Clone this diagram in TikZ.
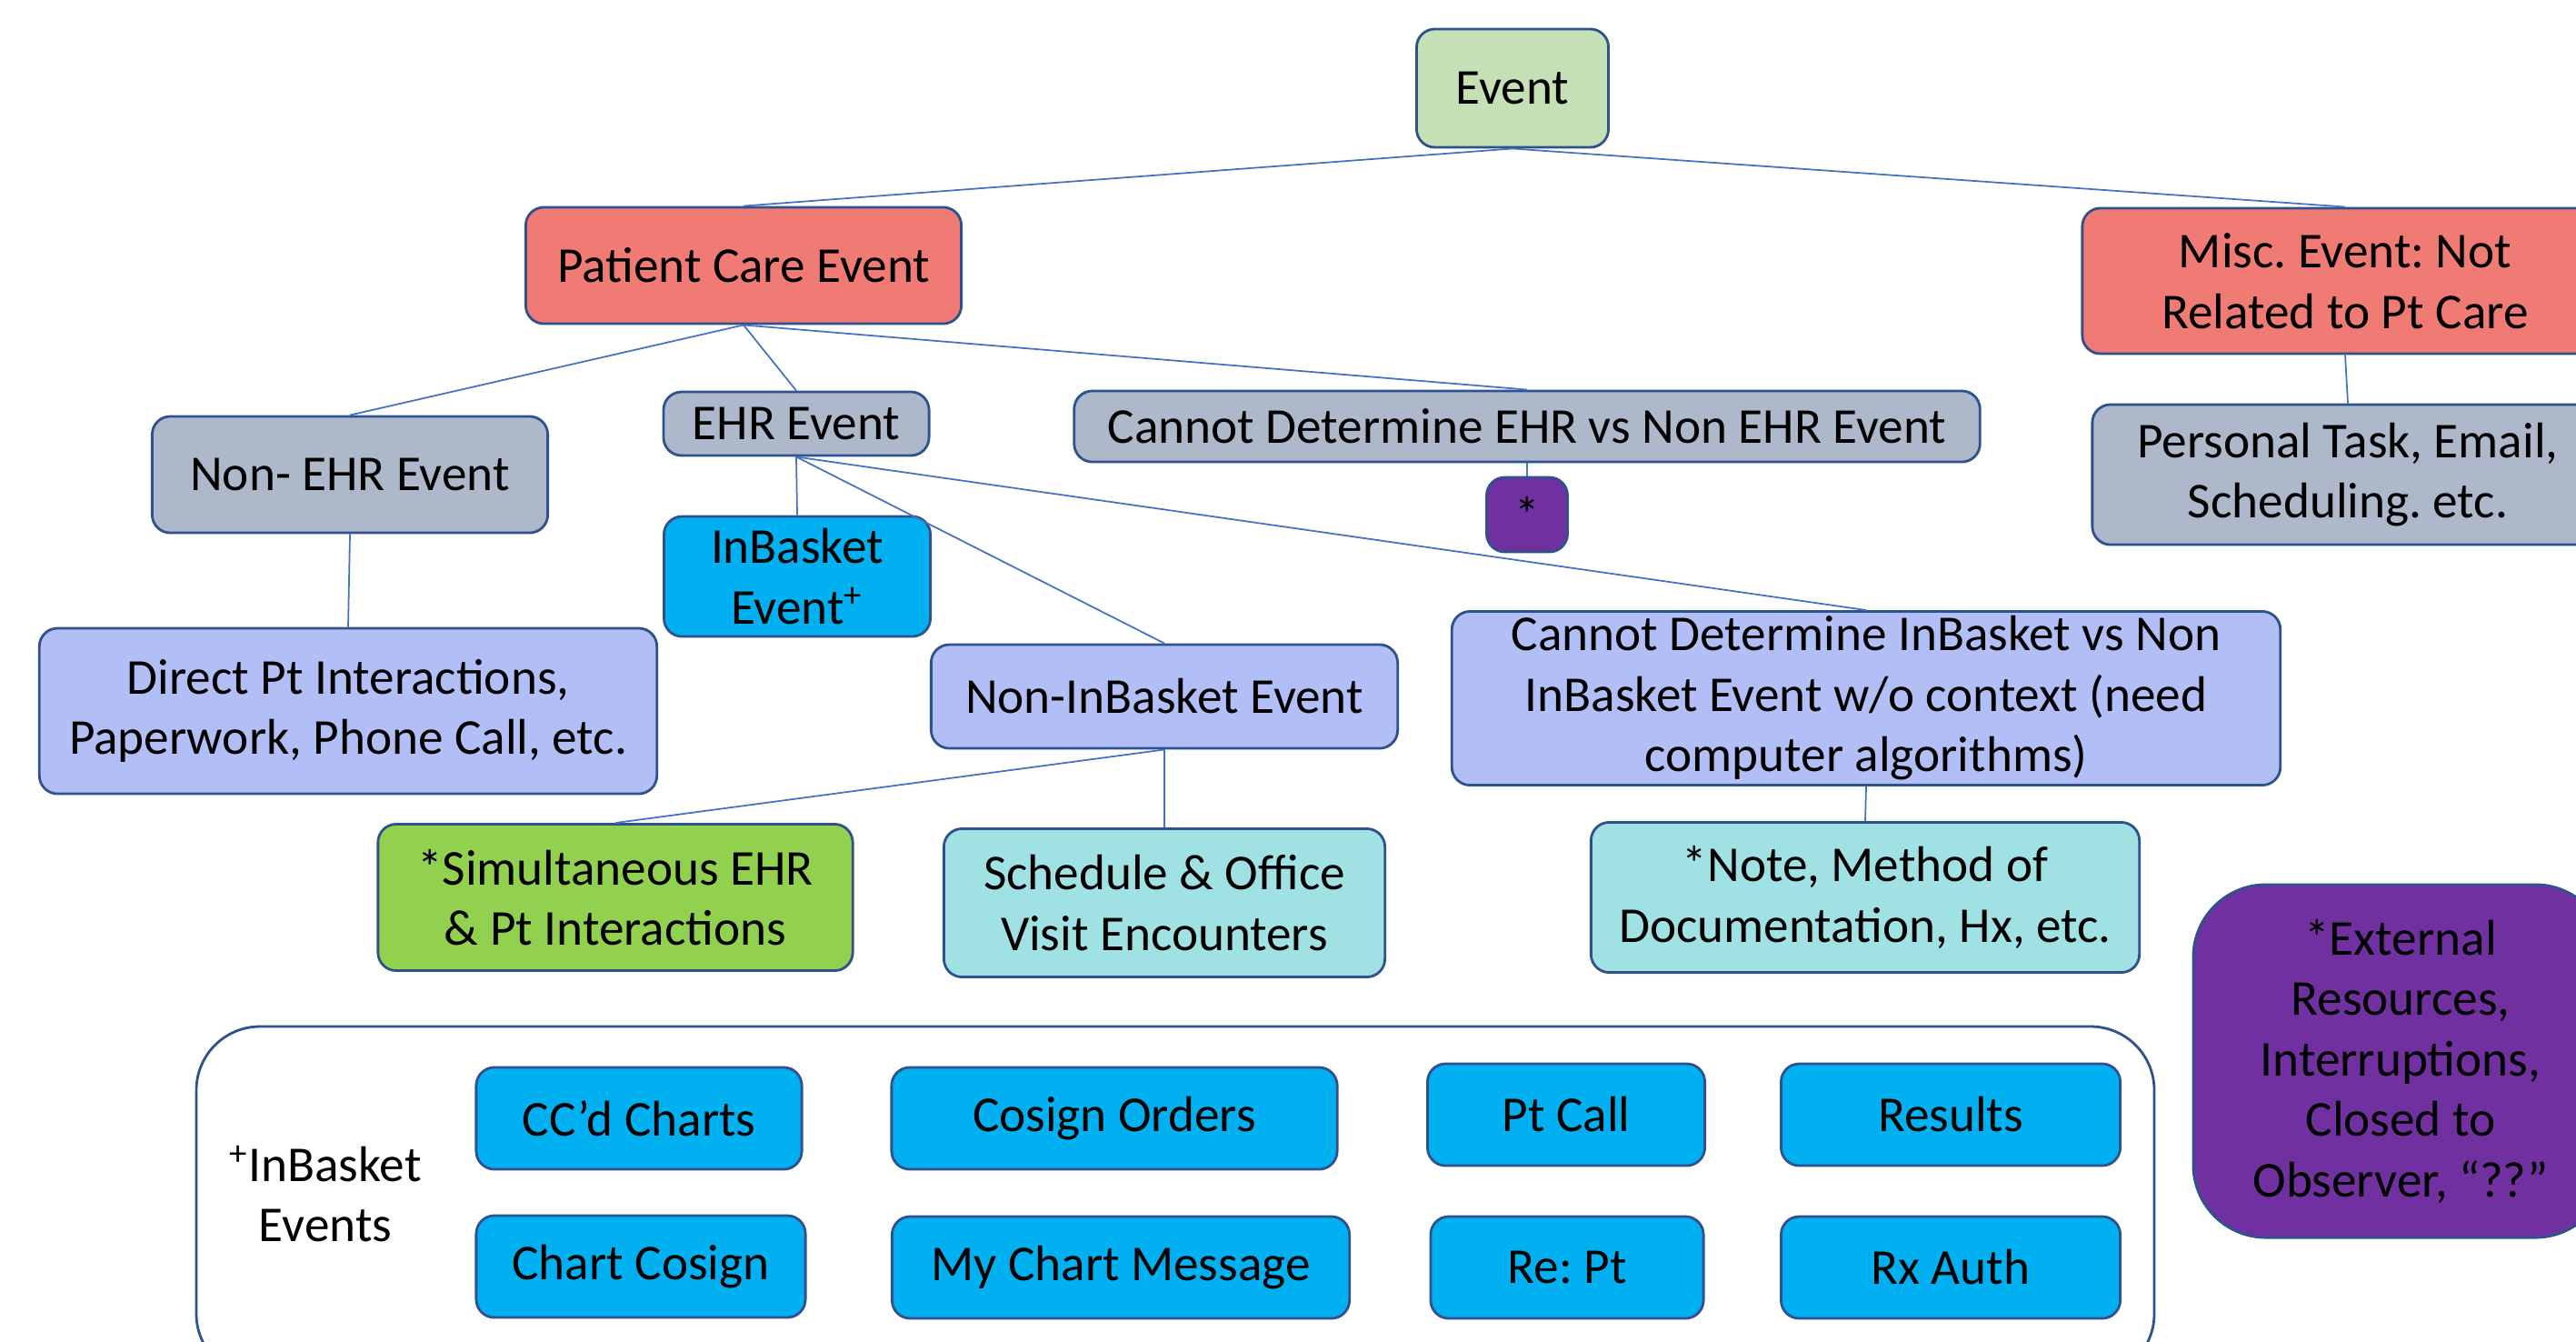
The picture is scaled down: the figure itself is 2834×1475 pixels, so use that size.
\documentclass[tikz,border=0pt]{standalone}
\usepackage{fontspec}
\setmainfont{Carlito}
\usetikzlibrary{positioning}
\definecolor{boxline}{HTML}{2F528F}
\definecolor{linkblue}{HTML}{4472C4}
\definecolor{evgreen}{HTML}{C5E0B4}
\definecolor{pcred}{HTML}{F07B74}
\definecolor{ehrgray}{HTML}{ADB9CA}
\definecolor{lavender}{HTML}{B1BFF6}
\definecolor{inblue}{HTML}{00B0F0}
\definecolor{simgreen}{HTML}{92D050}
\definecolor{lightcyan}{HTML}{A0E1E4}
\definecolor{extpurple}{HTML}{7030A0}

\begin{document}
\frenchspacing
\begin{tikzpicture}[
    x=0.01cm, y=-0.01cm,
    box/.style={draw=boxline, line width=0.8pt, rounded corners=0.2cm, align=center, inner sep=0pt, font=\fontsize{15.7}{18.9}\selectfont},
    wh/.style 2 args={minimum width=#1cm, minimum height=#2cm},
    link/.style={draw=linkblue, line width=0.5pt}
  ]
  \useasboundingbox (0,0) rectangle (2834,1475);
  \clip (0,0) rectangle (2834,1475);

  % top levels
  \node[box, fill=evgreen, wh={2.11}{1.30}] (ev) at (1664,97) {Event};
  \node[box, fill=pcred, wh={4.79}{1.28}] (pc) at (818,292) {Patient Care Event};
  \node[box, fill=pcred, wh={5.78}{1.60}] (misc) at (2580,309) {Misc. Event: Not\\Related to Pt Care};
  \node[box, fill=ehrgray, wh={5.62}{1.54}] (pers) at (2583,522) {Personal Task, Email,\\Scheduling. etc.};

  % patient care branch
  \node[box, fill=ehrgray, wh={4.35}{1.28}] (nonehr) at (385,522) {Non- EHR Event};
  \node[box, fill=ehrgray, wh={2.92}{0.70}] (ehr) at (876,466) {EHR Event};
  \node[box, fill=ehrgray, wh={9.96}{0.78}] (cdehr) at (1680,469) {Cannot Determine EHR vs Non EHR Event};
  \node[box, fill=extpurple, wh={0.89}{0.82}] (star) at (1680,566) {*};
  \node[box, fill=lavender, wh={6.79}{1.82}] (direct) at (383,782) {Direct Pt Interactions,\\Paperwork, Phone Call, etc.};
  \node[box, fill=inblue, wh={2.93}{1.32}] (inb) at (877,634) {InBasket\\Event\textsuperscript{+}};
  \node[box, fill=lavender, wh={5.13}{1.14}] (noninb) at (1281,766) {Non-InBasket Event};
  \node[box, fill=lavender, wh={9.11}{1.91}] (cdinb) at (2053,768) {Cannot Determine InBasket vs Non\\InBasket Event w/o context (need\\computer algorithms)};
  \node[box, fill=simgreen, wh={5.22}{1.61}] (sim) at (677,987) {*Simultaneous EHR\\\& Pt Interactions};
  \node[box, fill=lightcyan, wh={4.85}{1.63}] (sched) at (1281,993) {Schedule \& Office\\Visit Encounters};
  \node[box, fill=lightcyan, wh={6.03}{1.65}] (note) at (2052,987) {*Note, Method of\\Documentation, Hx, etc.};
  \node[box, fill=extpurple, rounded corners=0.8cm, wh={4.56}{3.88}] (ext) at (2641,1167) {*External\\Resources,\\Interruptions,\\Closed to\\Observer, “??”};

  % inbasket legend
  \draw[boxline, line width=0.8pt, rounded corners=0.7cm] (216,1129) rectangle (2370,1515);
  \node[align=center, inner sep=0pt, font=\fontsize{15.7}{18.9}\selectfont] (inblbl) at (358,1313) {\textsuperscript{+}InBasket\\Events};
  \node[box, fill=inblue, wh={3.58}{1.12}] (ccd) at (703,1230) {CC’d Charts};
  \node[box, fill=inblue, wh={4.90}{1.12}] (cosord) at (1226,1230) {Cosign Orders};
  \node[box, fill=inblue, wh={3.05}{1.12}] (ptcall) at (1723,1226) {Pt Call};
  \node[box, fill=inblue, wh={3.73}{1.12}] (res) at (2146,1226) {Results};
  \node[box, fill=inblue, wh={3.62}{1.12}] (chcos) at (705,1393) {Chart Cosign};
  \node[box, fill=inblue, wh={5.03}{1.12}] (mychart) at (1233,1394) {My Chart Message};
  \node[box, fill=inblue, wh={3.00}{1.12}] (rept) at (1724,1394) {Re: Pt};
  \node[box, fill=inblue, wh={3.73}{1.12}] (rxauth) at (2146,1394) {Rx Auth};

  % connectors
  \draw[link] (ev.south) -- (pc.north);
  \draw[link] (ev.south) -- (misc.north);
  \draw[link] (misc.south) -- (pers.north);
  \draw[link] (pc.south) -- (nonehr.north);
  \draw[link] (pc.south) -- (ehr.north);
  \draw[link] (pc.south) -- (cdehr.north);
  \draw[link] (cdehr.south) -- (star.north);
  \draw[link] (nonehr.south) -- (direct.north);
  \draw[link] (ehr.south) -- (inb.north);
  \draw[link] (ehr.south) -- (noninb.north);
  \draw[link] (ehr.south) -- (cdinb.north);
  \draw[link] (noninb.south) -- (sim.north);
  \draw[link] (noninb.south) -- (sched.north);
  \draw[link] (cdinb.south) -- (note.north);
\end{tikzpicture}
\end{document}
